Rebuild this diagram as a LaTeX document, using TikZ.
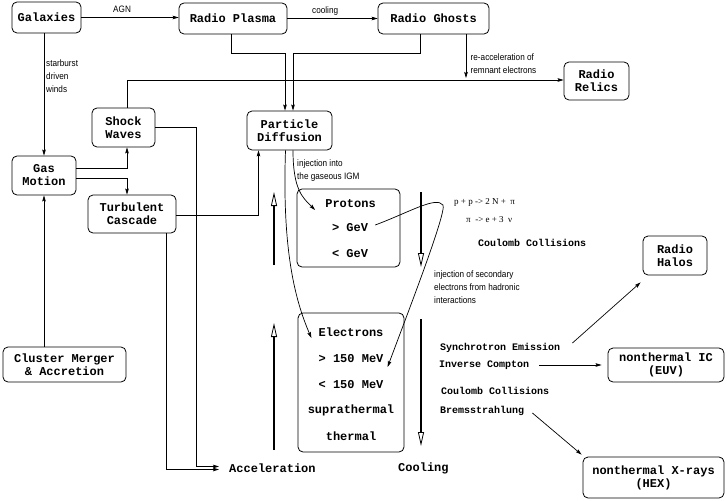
\documentclass[tikz,border=0pt]{standalone}
\usepackage{fontspec}
\setmonofont{Liberation Mono}
\newfontfamily\labfont[FakeStretch=0.88]{Liberation Sans}
\newfontfamily\serfont{Liberation Serif}
\usetikzlibrary{arrows.meta}
\tikzset{
 box/.style={draw, rounded corners=5pt, line width=0.8pt, inner sep=0pt, align=center, font=\ttfamily\bfseries\fontsize{12}{13}\selectfont},
 txt/.style={inner sep=0pt, font=\ttfamily\bfseries\fontsize{12}{13}\selectfont, text height=8.5pt, text depth=0pt},
 stxt/.style={inner sep=0pt, anchor=west, font=\ttfamily\bfseries\fontsize{10}{12}\selectfont, text height=7pt, text depth=0pt},
 lab/.style={inner sep=0pt, align=left, anchor=west, font=\labfont\fontsize{9.3}{13.3}\selectfont},
 form/.style={inner sep=0pt, anchor=west, font=\serfont\fontsize{9}{11}\selectfont, text height=6pt, text depth=0pt},
 conn/.style={line width=0.7pt, -{Stealth[length=6pt,width=3.6pt,inset=1pt]}},
 hollow/.style={line width=1.6pt, -{Triangle[open,length=14pt,width=6pt,line width=0.8pt]}},
}
\begin{document}
\begin{tikzpicture}[x=1pt,y=-1pt]
\useasboundingbox (0,0) rectangle (727,500);
% boxes
\node[box, minimum width=69, minimum height=31] (gal) at (46.5,17.5) {Galaxies};
\node[box, minimum width=108, minimum height=31] (rp) at (233,18.5) {Radio Plasma};
\node[box, minimum width=111, minimum height=31] (rg) at (433.5,18.5) {Radio Ghosts};
\node[box, minimum width=65, minimum height=38] (rr) at (596.5,81) {Radio\\Relics};
\node[box, minimum width=63, minimum height=39] (sw) at (123.5,127.5) {Shock\\Waves};
\node[box, minimum width=85, minimum height=39] (pd) at (289.5,130.5) {Particle\\Diffusion};
\node[box, minimum width=64, minimum height=39] (gm) at (44,175.5) {Gas\\Motion};
\node[box, minimum width=88, minimum height=38] (tc) at (132,214) {Turbulent\\Cascade};
\node[box, minimum width=123, minimum height=35] (cm) at (64.5,364.5) {Cluster Merger\\\& Accretion};
\node[box, minimum width=103, minimum height=78] (pr) at (348.5,228) {};
\node[box, minimum width=106, minimum height=139] (el) at (351,382.5) {};
\node[box, minimum width=64, minimum height=39] (rh) at (675,255.5) {Radio\\Halos};
\node[box, minimum width=116, minimum height=34] (ic) at (666,365) {nonthermal IC\\(EUV)};
\node[box, minimum width=141, minimum height=41] (xr) at (653.5,477.5) {nonthermal X-rays\\(HEX)};
% texts inside protons / electrons
\node[txt] (prT) at (350.5,203) {Protons};
\node[txt] (gev) at (350,227) {> GeV};
\node[txt] (lgev) at (350,253) {< GeV};
\node[txt] (elT) at (351,332) {Electrons};
\node[txt] (e1) at (351,358) {> 150 MeV};
\node[txt] (e2) at (351,384) {< 150 MeV};
\node[txt] (e3) at (351,409) {suprathermal};
\node[txt] (e4) at (351,436) {thermal};
\node[txt, anchor=west] (acc) at (229,468) {Acceleration};
\node[txt, anchor=west] (cool) at (398,467) {Cooling};
% process texts
\node[stxt] (cc1) at (478,243) {Coulomb Collisions};
\node[stxt] (syn) at (440,347) {Synchrotron Emission};
\node[stxt] (inv) at (439,364) {Inverse Compton};
\node[stxt] (cc2) at (441,391) {Coulomb Collisions};
\node[stxt] (brem) at (440,410) {Bremsstrahlung};
\node[form] (f1) at (454,201) {p + p -> 2 N +\ \ π};
\node[form] (f2) at (466,219) {π\ \ -> e + 3\ \ ν};
% labels
\node[lab] (agn) at (113,9) {AGN};
\node[lab] (cooltxt) at (312,11) {cooling};
\node[lab] (sdw) at (46,76) {starburst\\driven\\winds};
\node[lab] (rel) at (470.5,64) {re-acceleration of\\remnant electrons};
\node[lab] (inj) at (297,170.5) {injection into\\the gaseous IGM};
\node[lab] (inj2) at (434,287) {injection of secondary\\electrons from hadronic\\interactions};
% connectors
\draw[conn] (gal.east) -- (gal.east -| rp.west);
\draw[conn] (rp.east) -- (rg.west);
\draw[conn] (gm.north |- gal.south) -- (gm.north);
\draw[conn] ([xshift=-2]rp.south) -- ++(0,19) -| ([xshift=-4.5]pd.north);
\draw[conn] ([xshift=-13.5]rg.south) -- ++(0,19) -| ([xshift=3.5]pd.north);
\coordinate (reend) at (466,78);
\draw[conn] (rg.south -| reend) -- (reend);
\draw[conn] ([xshift=3.5]sw.north) |- ([yshift=1]rr.west);
\draw[conn] ([yshift=7.5]gm.east) -| ([xshift=3.5]sw.south);
\draw[conn] ([yshift=-2.5]gm.east) -| ([xshift=-5]tc.north);
\draw[conn] (cm.north -| gm.south) -- (gm.south);
\draw[conn] (sw.east) -- ++(41,0) |- ([xshift=-10,yshift=1.5]acc.west);
\draw[conn] ([xshift=34]tc.south) |- ([xshift=-10,yshift=-1.5]acc.west);
\draw[conn] ([yshift=-1]tc.east) -| ([xshift=-31]pd.south);
\draw[conn] ([xshift=-4]pd.south) .. controls (282,250) and (295,300) .. ([xshift=-7,yshift=-6]elT.west);
\draw[conn] ([xshift=3.5]pd.south) .. controls (293,190) and (303,198) .. ([xshift=-10,yshift=-7]prT.west);
\draw[conn] ([xshift=7,yshift=2]gev.east) .. controls (410,212) and (436,196) .. (443,205) .. controls (447,212) and (405,320) .. ([xshift=4,yshift=-9]e1.east);
\draw[conn] ([xshift=12,yshift=4]syn.east) -- ([xshift=-2,yshift=-7]rh.south west);
\draw[conn] ([xshift=10,yshift=-1]inv.east) -- ([xshift=-6]ic.west);
\draw[conn] ([xshift=8,yshift=-3]brem.east) -- ([xshift=-1,yshift=2]xr.north west);
% acceleration / cooling arrows
\coordinate (aA1) at (274,265); \coordinate (aA2) at (274,192);
\coordinate (aB1) at (274,450); \coordinate (aB2) at (274,323);
\coordinate (cA1) at (421,192); \coordinate (cA2) at (421,267);
\coordinate (cB1) at (421,319); \coordinate (cB2) at (421,446);
\draw[hollow] (aA1) -- (aA2);
\draw[hollow] (aB1) -- (aB2);
\draw[hollow] (cA1) -- (cA2);
\draw[hollow] (cB1) -- (cB2);
\end{tikzpicture}
\end{document}
